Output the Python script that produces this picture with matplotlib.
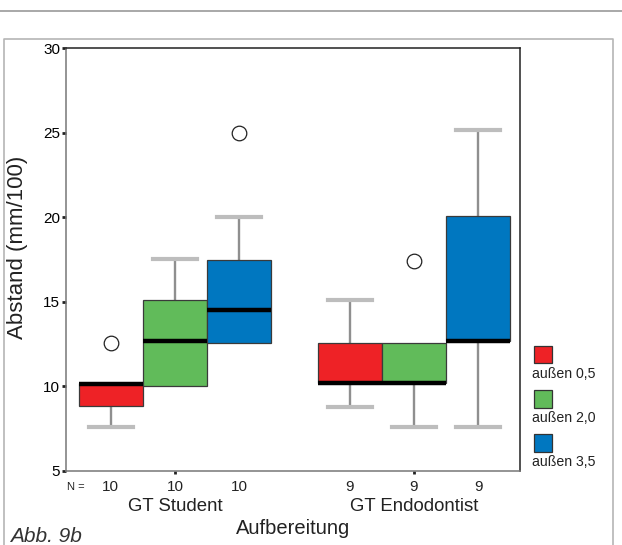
import matplotlib
matplotlib.use("Agg")
import matplotlib.pyplot as plt
from matplotlib.patches import Rectangle
from matplotlib.lines import Line2D

groups = ["GT Student", "GT Endodontist"]
series = ["außen 0,5", "außen 2,0", "außen 3,5"]
colors = ["#ee2226", "#61bb5a", "#0077c0"]

# per group: one value per series
student_lo = [7.61, 10.0, 12.57]
student_q1 = [8.85, 10.0, 12.57]
student_med = [10.1, 12.66, 14.48]
student_q3 = [10.17, 15.07, 17.48]
student_hi = [10.17, 17.54, 20.0]
student_out = [[12.54], [], [25.0]]
student_n = [10, 10, 10]

endo_lo = [8.79, 7.61, 7.61]
endo_q1 = [10.16, 10.16, 12.66]
endo_med = [10.16, 10.16, 12.66]
endo_q3 = [12.54, 12.54, 20.04]
endo_hi = [15.07, 12.54, 25.14]
endo_out = [[], [17.40], []]
endo_n = [9, 9, 9]

yticks = [5, 10, 15, 20, 25, 30]

narrow = ["Liberation Sans Narrow", "Liberation Sans", "DejaVu Sans"]
plt.rcParams["font.family"] = ["Liberation Sans", "DejaVu Sans"]

fig = plt.figure(figsize=(6.22, 5.45), dpi=100)
ax = fig.add_axes([0.1069, 0.1363, 0.7299, 0.7756])

group_pos = [1.69, 5.41]
offsets = [-1, 0, 1]

stats, positions, n_all = [], [], []
data = [(student_lo, student_q1, student_med, student_q3, student_hi, student_out, student_n),
        (endo_lo, endo_q1, endo_med, endo_q3, endo_hi, endo_out, endo_n)]
for g, (lo, q1, med, q3, hi, out, n) in zip(group_pos, data):
    for i in range(3):
        stats.append(dict(whislo=lo[i], q1=q1[i], med=med[i], q3=q3[i],
                          whishi=hi[i], fliers=out[i]))
        positions.append(g + offsets[i])
        n_all.append(n[i])

bp = ax.bxp(stats, positions=positions, widths=1.0, patch_artist=True,
            showfliers=True, capwidths=0.69,
            boxprops=dict(edgecolor="#3a3a3a", linewidth=0.9, zorder=1),
            medianprops=dict(color="black", linewidth=3.2, solid_capstyle="butt", zorder=2),
            whiskerprops=dict(color="#8f8f8f", linewidth=1.7, zorder=0.5),
            capprops=dict(color="#bdbdbd", linewidth=3.0, zorder=0.5),
            flierprops=dict(marker="o", markersize=10.5, markerfacecolor="white",
                            markeredgecolor="#222222", markeredgewidth=0.9))
for k, box in enumerate(bp["boxes"]):
    box.set_facecolor(colors[k % 3])
# no cap where the whisker has zero length
for k, s in enumerate(stats):
    if s["whislo"] >= s["q1"]:
        bp["caps"][2 * k].set_visible(False)
    if s["whishi"] <= s["q3"]:
        bp["caps"][2 * k + 1].set_visible(False)

ax.set_xlim(0, 7.07)
ax.set_ylim(5, 30)
ax.set_yticks(yticks)
ax.set_yticklabels([str(t) for t in yticks], family=narrow, fontsize=11)
ax.tick_params(axis="y", length=3, width=2, pad=1.5, color="#222222")
ax.set_xticks(group_pos)
ax.set_xticklabels(groups, fontsize=13.4, color="#222222")
ax.tick_params(axis="x", length=2.5, width=2, pad=17, color="#222222")

for side in ["top", "right"]:
    ax.spines[side].set_color("#222222")
    ax.spines[side].set_linewidth(1.1)
for side in ["left", "bottom"]:
    ax.spines[side].set_color("#777777")
    ax.spines[side].set_linewidth(1.1)

# N row
tr = ax.get_xaxis_transform()
ax.text(0.001, -0.038, "N =", transform=ax.transAxes, ha="left", va="center",
        family=narrow, fontsize=8, color="#222222")
for p, n in zip(positions, n_all):
    ax.text(p, -0.038, str(n), transform=tr, ha="center", va="center",
            family=narrow, fontsize=11, color="#222222")

fig.text(0.471, 1 - 528 / 545, "Aufbereitung", ha="center", va="center",
         fontsize=14.5, color="#222222")
fig.text(18 / 622, 1 - 247.5 / 545, "Abstand (mm/100)", ha="center", va="center",
         rotation=90, fontsize=16, color="#222222")
fig.text(10 / 622, 1 - 536 / 545, "Abb. 9b", ha="left", va="center",
         family=narrow, style="italic", fontsize=15, color="#333333")

# legend
leg_y = [354.5, 399, 443]
for c, lab, yc in zip(colors, series, leg_y):
    fig.add_artist(Rectangle((534 / 622, 1 - (yc + 8.8) / 545), 18 / 622, 17.6 / 545,
                             transform=fig.transFigure, facecolor=c,
                             edgecolor="#333333", linewidth=0.9))
    fig.text(532 / 622, 1 - (yc + 19.5) / 545, lab, ha="left", va="center",
             family=narrow, fontsize=10.2, color="#222222")

# page frame
fig.add_artist(Line2D([0, 1], [1 - 11 / 545, 1 - 11 / 545], transform=fig.transFigure,
                      color="#9a9a9a", linewidth=1.2))
fig.add_artist(Line2D([4 / 622, 4 / 622, 613 / 622, 613 / 622],
                      [0, 1 - 39 / 545, 1 - 39 / 545, 0], transform=fig.transFigure,
                      color="#b5b5b5", linewidth=1.2))

fig.savefig("out.png", dpi=100)
